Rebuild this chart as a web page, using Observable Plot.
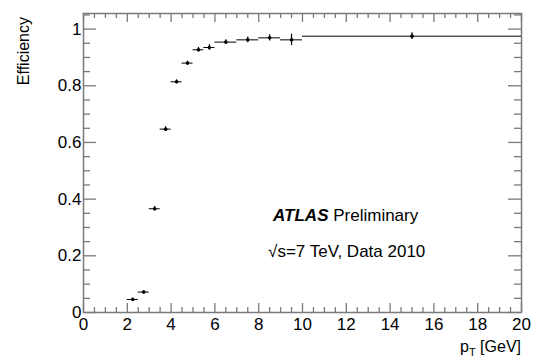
<!DOCTYPE html>
<html>
<head>
<meta charset="utf-8">
<script src="https://cdn.jsdelivr.net/npm/d3@7"></script>
<script src="https://cdn.jsdelivr.net/npm/@observablehq/plot@0.6"></script>
<style>
  html, body { margin: 0; padding: 0; background: #fff; }
  #chart svg { display: block; }
</style>
</head>
<body>
<div id="chart"></div>
<script>
// ---- data ----
const binLow  = [2.0, 2.5, 3.0, 3.5, 4.0, 4.5, 5.0, 5.5, 6.0, 7.0, 8.0, 9.0, 10.0];
const binHigh = [2.5, 3.0, 3.5, 4.0, 4.5, 5.0, 5.5, 6.0, 7.0, 8.0, 9.0, 10.0, 20.0];
const ptCenter = [2.25, 2.75, 3.25, 3.75, 4.25, 4.75, 5.25, 5.75, 6.5, 7.5, 8.5, 9.5, 15.0];
const efficiency = [0.046, 0.072, 0.366, 0.647, 0.814, 0.880, 0.927, 0.935, 0.954, 0.962, 0.969, 0.962, 0.975];
const effError = [0.005, 0.005, 0.008, 0.008, 0.007, 0.007, 0.008, 0.010, 0.008, 0.010, 0.011, 0.020, 0.012];

const xLabelTicks = [0, 2, 4, 6, 8, 10, 12, 14, 16, 18, 20];
const xMinorTicks = d3.range(0, 20.001, 0.5);
const yLabelTicks = [0, 0.2, 0.4, 0.6, 0.8, 1];
const yMinorTicks = d3.range(0, 1.051, 0.05);

const yTitle = "Efficiency";
const annotation1Bold = "ATLAS";
const annotation1Rest = " Preliminary";
const annotation2 = "√s=7 TeV, Data 2010";

const rows = ptCenter.map((x, i) => ({x, lo: binLow[i], hi: binHigh[i], y: efficiency[i], e: effError[i]}));

// ---- layout ----
const W = 534, H = 360, mL = 83, mR = 13, mT = 13, mB = 48;
const xMax = 20, yMax = 1.055;
const pxX = xMax / (W - mL - mR);   // data units per pixel (x)
const pxY = yMax / (H - mT - mB);   // data units per pixel (y)
const axisColor = "#7a7a7a";
const font = "Liberation Sans, Arial, Helvetica, sans-serif";

const isMajorX = d => Math.abs(d / 2 - Math.round(d / 2)) < 1e-6;
const isMajorY = d => Math.abs(d / 0.2 - Math.round(d / 0.2)) < 1e-6;

const plot = Plot.plot({
  width: W, height: H,
  marginLeft: mL, marginRight: mR, marginTop: mT, marginBottom: mB,
  style: {fontFamily: font, background: "#fff", color: "#000"},
  x: {domain: [0, xMax]},
  y: {domain: [0, yMax]},
  marks: [
    // inward ticks: bottom and top
    Plot.ruleX(xMinorTicks, {x: d => d, y1: 0, y2: d => (isMajorX(d) ? 9 : 5) * pxY, stroke: axisColor, strokeWidth: 1.3}),
    Plot.ruleX(xMinorTicks, {x: d => d, y1: yMax, y2: d => yMax - (isMajorX(d) ? 9 : 5) * pxY, stroke: axisColor, strokeWidth: 1.3}),
    // inward ticks: left and right
    Plot.ruleY(yMinorTicks, {y: d => d, x1: 0, x2: d => (isMajorY(d) ? 13 : 7) * pxX, stroke: axisColor, strokeWidth: 1.3}),
    Plot.ruleY(yMinorTicks, {y: d => d, x1: xMax, x2: d => xMax - (isMajorY(d) ? 13 : 7) * pxX, stroke: axisColor, strokeWidth: 1.3}),
    Plot.frame({stroke: axisColor, strokeWidth: 1.5}),
    Plot.axisX({ticks: xLabelTicks, tickSize: 0, tickPadding: 5, fontSize: 17, label: null, tickFormat: d => String(d)}),
    Plot.axisY({ticks: yLabelTicks, tickSize: 0, tickPadding: 2, fontSize: 17, label: null, tickFormat: d => String(d)}),
    // horizontal bin-width bars
    Plot.ruleY(rows, {y: "y", x1: "lo", x2: "hi", stroke: "#000", strokeWidth: 1}),
    // vertical error bars
    Plot.ruleX(rows, {x: "x", y1: d => d.y - d.e, y2: d => d.y + d.e, stroke: "#000", strokeWidth: 1.2}),
    Plot.dot(rows, {x: "x", y: "y", r: 1.8, fill: "#000", stroke: null})
  ]
});

document.getElementById("chart").appendChild(plot);

// ---- text additions (titles and annotations) ----
const svg = d3.select(plot);
const sx = plot.scale("x"), sy = plot.scale("y");

// y title, rotated, aligned to top of axis
svg.append("text")
  .attr("transform", `translate(28.5,17) rotate(-90)`)
  .attr("text-anchor", "end")
  .attr("font-family", font).attr("font-size", 16).attr("fill", "#000")
  .text(yTitle);

// x title p_T [GeV], right-aligned
const xt = svg.append("text")
  .attr("x", sx.apply(xMax)).attr("y", 352)
  .attr("text-anchor", "end")
  .attr("font-family", font).attr("font-size", 16).attr("fill", "#000");
xt.append("tspan").text("p");
xt.append("tspan").attr("font-size", 11).attr("dy", 4).text("T");
xt.append("tspan").attr("dy", -4).text(" [GeV]");

// ATLAS Preliminary
const t1 = svg.append("text")
  .attr("x", sx.apply(8.68)).attr("y", sy.apply(0.322))
  .attr("text-anchor", "start")
  .attr("font-family", font).attr("font-size", 17).attr("fill", "#000");
t1.append("tspan").attr("font-weight", "bold").attr("font-style", "italic").text(annotation1Bold);
t1.append("tspan").text(annotation1Rest);

// sqrt(s) line
svg.append("text")
  .attr("x", sx.apply(8.45)).attr("y", sy.apply(0.194))
  .attr("text-anchor", "start")
  .attr("font-family", font).attr("font-size", 17).attr("fill", "#000")
  .text(annotation2);
</script>
</body>
</html>
